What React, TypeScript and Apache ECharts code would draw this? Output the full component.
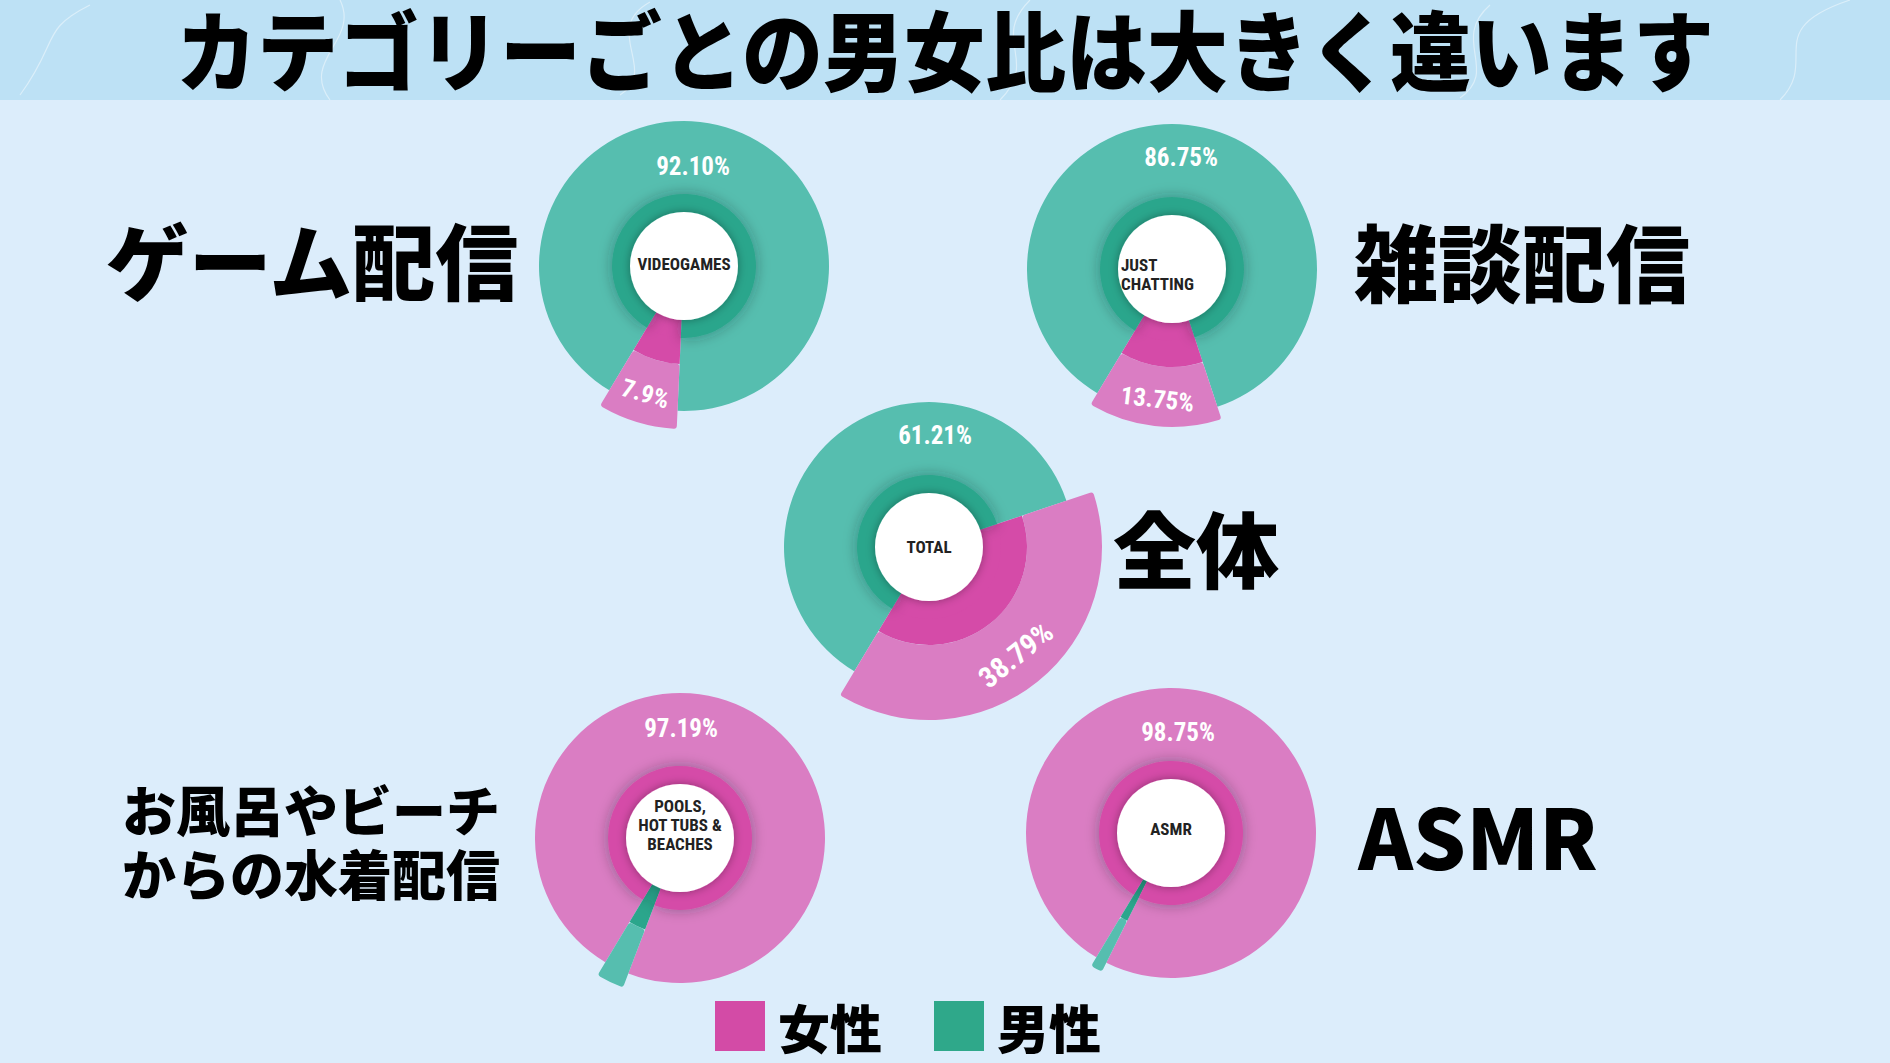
import React, { useEffect, useRef } from "react";
import * as echarts from "echarts";

// ---- data ----
const categories = ["VIDEOGAMES", "JUST\nCHATTING", "TOTAL", "POOLS,\nHOT TUBS &\nBEACHES", "ASMR"];
const maleShare = [92.1, 86.75, 61.21, 2.81, 1.25];
const femaleShare = [7.9, 13.75, 38.79, 97.19, 98.75];
const sideLabels = ["ゲーム配信", "雑談配信", "全体", "お風呂やビーチ\nからの水着配信", "ASMR"];
const legendNames = ["女性", "男性"];
const titleText = "カテゴリーごとの男女比は大きく違います";

// ---- layout ----
const W = 1890;
const H = 1063;
const centers = [
  [684, 266],
  [1172, 269],
  [929, 547],
  [680, 838],
  [1171, 833],
];
const minorOuterR = [163, 158, 173, 160, 155];
const majorLabelOffset = [
  [9, -100],
  [9, -112],
  [6, -112],
  [1, -110],
  [7, -101],
];
const centerLabelOffset = [
  [0, -2, "center"],
  [-51, 5, "left"],
  [0, 0, "center"],
  [0, -13, "center"],
  [0, -4, "center"],
];
const sideLabelPos = [
  [312, 258, 83],
  [1522, 259, 84],
  [1196, 546, 83],
  [311, 808, 54],
  [1478, 834, 83],
];
const sideLineGap = 64;
// faint marble veins in the title band
const veins = [
  [[20, 95], [60, 40], [40, 30], [90, 5]],
  [[330, 100], [300, 60], [360, 40], [340, 0]],
  [[620, 95], [660, 70], [600, 30], [650, 2]],
  [[1000, 100], [1040, 60], [990, 40], [1030, 0]],
  [[1460, 98], [1500, 70], [1450, 40], [1490, 5]],
  [[1780, 100], [1820, 60], [1760, 30], [1850, 0]],
];

const PINK = { light: "#da7dc3", dark: "#d54ba8", legend: "#d34ba6" };
const TEAL = { light: "#56beaf", dark: "#2ba68c", legend: "#2fa88a" };
const CLEAR = "rgba(0,0,0,0)";
const NARROW = "'Liberation Sans Narrow', 'Roboto Condensed', Roboto, sans-serif";
const JP = "'Noto Sans CJK JP', sans-serif";

function buildOption() {
  const series: any[] = [];
  const graphic: any[] = [];

  graphic.push({
    type: "rect",
    shape: { x: 0, y: 0, width: W, height: 100 },
    style: { fill: "#bde1f5" },
    z: 0,
  });
  veins.forEach((v) => {
    graphic.push({
      type: "bezierCurve",
      shape: { x1: v[0][0], y1: v[0][1], cpx1: v[1][0], cpy1: v[1][1], cpx2: v[2][0], cpy2: v[2][1], x2: v[3][0], y2: v[3][1] },
      style: { stroke: "rgba(255,255,255,0.45)", lineWidth: 1.2, fill: "none" },
      z: 1,
    });
  });
  graphic.push({
    type: "text",
    x: W / 2,
    y: 47,
    scaleY: 1.08,
    z: 10,
    style: {
      text: titleText,
      fontSize: 81,
      fontWeight: 900,
      fontFamily: JP,
      fill: "#000",
      align: "center",
      verticalAlign: "middle",
    },
  });

  categories.forEach((cat, i) => {
    const m = maleShare[i];
    const f = femaleShare[i];
    const femaleMinor = f < m;
    const minorVal = Math.min(m, f);
    const majorVal = Math.max(m, f);
    const minorName = femaleMinor ? legendNames[0] : legendNames[1];
    const majorName = femaleMinor ? legendNames[1] : legendNames[0];
    const minorPal = femaleMinor ? PINK : TEAL;
    const majorPal = femaleMinor ? TEAL : PINK;
    const common = {
      type: "pie",
      center: centers[i],
      clockwise: false,
      startAngle: 239,
      silent: true,
      animation: false,
      label: { show: false },
      labelLine: { show: false },
      emphasis: { disabled: true },
      itemStyle: { borderWidth: 0 },
    };
    // major outer light
    series.push({
      ...common,
      radius: [70, 145],
      data: [
        { name: minorName, value: minorVal, itemStyle: { color: CLEAR } },
        { name: majorName, value: majorVal, itemStyle: { color: majorPal.light } },
      ],
    });
    // minor outer light (pops out)
    series.push({
      ...common,
      radius: [98, minorOuterR[i]],
      data: [
        {
          name: minorName,
          value: minorVal,
          itemStyle: { color: minorPal.light, borderRadius: 3 },
          label: {
            show: femaleMinor,
            position: "inside",
            rotate: "tangential",
            formatter: `${minorVal}%`,
            color: "#fff",
            fontSize: i === 2 ? 29 : 25,
            fontWeight: "bold",
            fontFamily: NARROW,
          },
        },
        { name: majorName, value: majorVal, itemStyle: { color: CLEAR } },
      ],
    });
    // minor inner dark
    series.push({
      ...common,
      radius: [53, 98],
      data: [
        { name: minorName, value: minorVal, itemStyle: { color: minorPal.dark } },
        { name: majorName, value: majorVal, itemStyle: { color: CLEAR } },
      ],
    });
    // dark ring
    series.push({
      ...common,
      radius: [53, 72],
      data: [
        { name: minorName, value: minorVal, itemStyle: { color: minorPal.dark } },
        {
          name: majorName,
          value: majorVal,
          itemStyle: { color: majorPal.dark, shadowBlur: 14, shadowColor: "rgba(0,40,40,0.35)" },
        },
      ],
    });
    // white center
    series.push({
      type: "pie",
      center: centers[i],
      radius: [0, 54],
      silent: true,
      animation: false,
      label: { show: false },
      labelLine: { show: false },
      emphasis: { disabled: true },
      data: [
        {
          name: cat,
          value: 1,
          itemStyle: { color: "#ffffff", borderWidth: 0, shadowBlur: 10, shadowColor: "rgba(0,0,0,0.35)" },
        },
      ],
    });

    // major percentage at top
    const mo = majorLabelOffset[i];
    graphic.push({
      type: "text",
      x: centers[i][0] + mo[0],
      y: centers[i][1] + mo[1],
      z: 100,
      style: {
        text: `${majorVal.toFixed(2)}%`,
        fontSize: 25,
        fontWeight: "bold",
        fontFamily: NARROW,
        fill: "#fff",
        align: "center",
        verticalAlign: "middle",
      },
    });
    // center category label
    const off = centerLabelOffset[i];
    graphic.push({
      type: "text",
      x: centers[i][0] + (off[0] as number),
      y: centers[i][1] + (off[1] as number),
      z: 100,
      style: {
        text: cat,
        fontSize: 17,
        lineHeight: 19,
        fontWeight: "bold",
        fontFamily: NARROW,
        fill: "#222",
        align: off[2],
        verticalAlign: "middle",
      },
    });
    // side label (one text per line)
    const sp = sideLabelPos[i];
    sideLabels[i].split("\n").forEach((line, li) => {
      graphic.push({
        type: "text",
        x: sp[0],
        y: sp[1] + li * sideLineGap,
        z: 100,
        style: {
          text: line,
          fontSize: sp[2],
          fontWeight: 900,
          fontFamily: JP,
          fill: "#000",
          align: "center",
          verticalAlign: "middle",
        },
      });
    });
  });

  return {
    animation: false,
    backgroundColor: "#dcedfb",
    legend: {
      left: 710,
      top: 995,
      itemWidth: 50,
      itemHeight: 50,
      itemGap: 52,
      icon: "rect",
      selectedMode: false,
      data: [
        { name: legendNames[0], itemStyle: { color: PINK.legend } },
        { name: legendNames[1], itemStyle: { color: TEAL.legend } },
      ],
      textStyle: {
        fontSize: 52,
        lineHeight: 50,
        fontWeight: 900,
        fontFamily: JP,
        color: "#000",
        padding: [0, 0, 0, 8],
      },
    },
    series,
    graphic,
  };
}

export default function App() {
  const ref = useRef<HTMLDivElement>(null);
  useEffect(() => {
    document.body.style.margin = "0";
    const chart = echarts.init(ref.current!, null, { renderer: "svg" });
    chart.setOption(buildOption() as any);
    return () => chart.dispose();
  }, []);
  return (
    <div
      ref={ref}
      style={{ position: "absolute", left: 0, top: 0, width: W, height: H }}
    />
  );
}
